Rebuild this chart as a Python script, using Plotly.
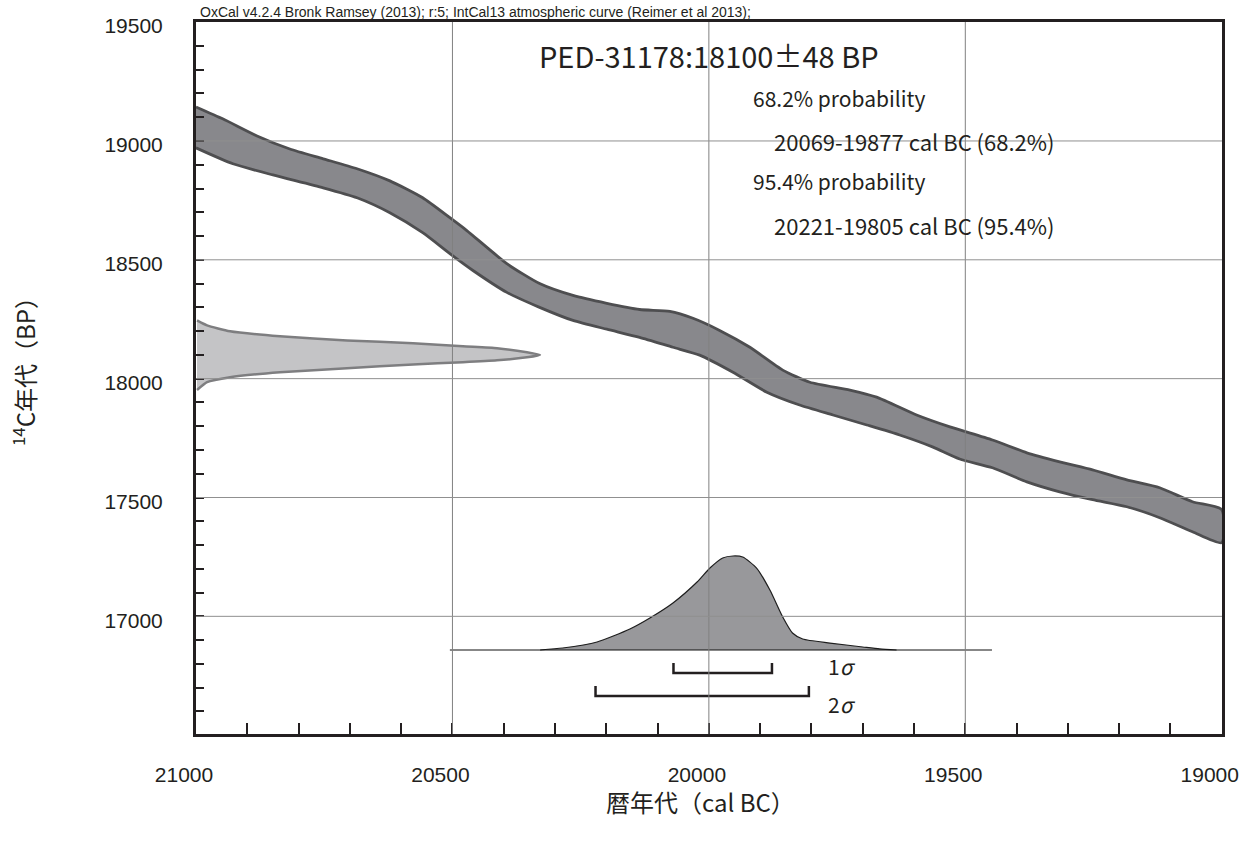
import plotly.graph_objects as go

# IntCal13 calibration band, upper and lower edges (cal BC, 14C BP)
curve_upper_year = [21000, 20947, 20881, 20817, 20752, 20686, 20622, 20558, 20505, 20472,
                    20394, 20330, 20265, 20199, 20135, 20076, 20031, 19979, 19920, 19856,
                    19803, 19725, 19673, 19595, 19530, 19447, 19380, 19316, 19252, 19185,
                    19121, 19057, 19000]
curve_upper_bp = [19143, 19092, 19021, 18966, 18925, 18883, 18832, 18761, 18677, 18623,
                  18484, 18400, 18350, 18317, 18291, 18283, 18254, 18203, 18132, 18036,
                  17985, 17952, 17922, 17847, 17797, 17742, 17688, 17650, 17616, 17574,
                  17541, 17482, 17449]
curve_lower_year = [21000, 20928, 20850, 20752, 20686, 20622, 20558, 20505, 20460, 20394,
                    20330, 20265, 20199, 20135, 20070, 20018, 19953, 19887, 19823, 19758,
                    19692, 19628, 19564, 19511, 19447, 19380, 19316, 19252, 19185, 19121,
                    19057, 19000]
curve_lower_bp = [18971, 18904, 18857, 18803, 18761, 18698, 18614, 18526, 18455, 18363,
                  18300, 18245, 18208, 18174, 18132, 18099, 18027, 17943, 17889, 17847,
                  17805, 17763, 17713, 17662, 17625, 17566, 17524, 17491, 17461, 17415,
                  17356, 17310]

# measured date 18100 +/- 48 BP, relative probability
date_bp = [18245, 18224, 18199, 18178, 18161, 18149, 18136, 18128, 18111, 18100,
           18090, 18077, 18069, 18060, 18044, 18027, 18006, 17985, 17952]
date_prob = [0.003, 0.032, 0.099, 0.244, 0.439, 0.631, 0.776, 0.875, 0.962, 1.0,
             0.962, 0.875, 0.776, 0.631, 0.439, 0.244, 0.099, 0.032, 0.003]

# calibrated distribution (cal BC), relative probability
cal_year = [20329, 20285, 20218, 20154, 20115, 20070, 20023, 19998, 19973, 19953,
            19934, 19907, 19881, 19856, 19837, 19817, 19764, 19700, 19667, 19634]
cal_prob = [0.0, 0.021, 0.085, 0.223, 0.340, 0.500, 0.723, 0.872, 0.979, 1.0,
            0.989, 0.872, 0.638, 0.351, 0.181, 0.117, 0.074, 0.032, 0.011, 0.0]
cal_baseline = [20505, 19448]

range_1sigma = [20069, 19877]
range_2sigma = [20221, 19805]

x_ticks = [21000, 20500, 20000, 19500, 19000]
y_ticks = [19500, 19000, 18500, 18000, 17500, 17000]

JP = "Noto Sans CJK JP"
TXT = "#231f20"

# plot area in page pixels
L, R, T, B = 196, 1222, 22, 734
W, H = 1255, 848


def px(x):
    return (x - L) / (R - L)


def py(y):
    return (B - y) / (B - T)


fig = go.Figure()

# calibration band
fig.add_trace(go.Scatter(
    x=curve_upper_year + curve_lower_year[::-1],
    y=curve_upper_bp + curve_lower_bp[::-1],
    fill="toself", fillcolor="#88888c", mode="lines",
    line=dict(color="#4e4e50", width=2.8, shape="spline", smoothing=0.6),
    showlegend=False, hoverinfo="skip",
))

# measured date on the y axis
fig.add_trace(go.Scatter(
    x=date_prob, y=date_bp, xaxis="x2", yaxis="y",
    fill="toself", fillcolor="#c4c4c6", mode="lines",
    line=dict(color="#7e7e80", width=2.5, shape="spline", smoothing=0.5),
    showlegend=False, hoverinfo="skip",
))

# calibrated distribution
fig.add_trace(go.Scatter(
    x=cal_year, y=cal_prob, xaxis="x", yaxis="y2",
    fill="toself", fillcolor="#98989b", mode="lines",
    line=dict(color="#1e1e1e", width=1.2, shape="spline", smoothing=0.6),
    showlegend=False, hoverinfo="skip",
))
fig.add_trace(go.Scatter(
    x=cal_baseline, y=[0, 0], xaxis="x", yaxis="y2", mode="lines",
    line=dict(color="#111", width=1.2), showlegend=False, hoverinfo="skip",
))

# sigma brackets
for rng, lvl in [(range_1sigma, -0.245), (range_2sigma, -0.489)]:
    top = lvl + 0.107
    fig.add_trace(go.Scatter(
        x=[rng[0], rng[0], rng[1], rng[1]], y=[top, lvl, lvl, top],
        xaxis="x", yaxis="y2", mode="lines",
        line=dict(color="#231f20", width=2.5), showlegend=False, hoverinfo="skip",
    ))

# grid lines drawn over the data, like the original
for v in x_ticks[1:-1]:
    fig.add_shape(type="line", xref="x", yref="paper", x0=v, x1=v, y0=0, y1=1,
                  line=dict(color="#808080", width=1), layer="above")
for v in y_ticks[1:]:
    fig.add_shape(type="line", xref="paper", yref="y", x0=0, x1=1, y0=v, y1=v,
                  line=dict(color="#909090", width=1), layer="above")

axis_common = dict(
    showline=True, mirror=True, linewidth=3, linecolor=TXT, showgrid=False,
    zeroline=False, ticks="inside", tickcolor=TXT, tickformat="d", automargin=False,
    ticklabeloverflow="allow",
    tickfont=dict(family="Liberation Sans, Arial", size=21, color=TXT),
)
fig.update_layout(
    width=W, height=H,
    margin=dict(l=L, r=W - R, t=T, b=H - B),
    plot_bgcolor="white", paper_bgcolor="white",
    xaxis=dict(range=[21000, 18999.5], tickvals=x_ticks, ticklen=11, tickwidth=2,
               ticklabelstandoff=20, ticklabelshift=12,
               minor=dict(dtick=100, ticks="inside", ticklen=11, tickwidth=1.5, tickcolor=TXT),
               **axis_common),
    yaxis=dict(range=[16505, 19500.5], tickvals=y_ticks, ticklen=8, tickwidth=2,
               ticklabelstandoff=26, ticklabelshift=4,
               minor=dict(dtick=100, ticks="inside", ticklen=8, tickwidth=1.5, tickcolor=TXT),
               **axis_common),
    xaxis2=dict(overlaying="x", range=[0, (R - L) / 344], visible=False),
    yaxis2=dict(overlaying="y", range=[-(B - 650) / 94, (650 - T) / 94], visible=False),
)

ann = [
    dict(x=px(198), y=py(12), text="OxCal v4.2.4 Bronk Ramsey (2013); r:5; IntCal13 atmospheric curve (Reimer et al 2013);",
         xanchor="left", yanchor="middle", font=dict(family="Liberation Sans, Arial", size=14, color=TXT)),
    dict(x=px(709), y=py(55), text="PED-31178:18100±48 BP", xanchor="center", yanchor="middle",
         font=dict(family=JP, size=29, color=TXT)),
    dict(x=px(751), y=py(98), text="68.2% probability", xanchor="left", yanchor="middle",
         font=dict(family=JP, size=21, color=TXT)),
    dict(x=px(772), y=py(141), text="20069-19877 cal BC (68.2%)", xanchor="left", yanchor="middle",
         font=dict(family=JP, size=22, color=TXT)),
    dict(x=px(751), y=py(181), text="95.4% probability", xanchor="left", yanchor="middle",
         font=dict(family=JP, size=21, color=TXT)),
    dict(x=px(772), y=py(225), text="20221-19805 cal BC (95.4%)", xanchor="left", yanchor="middle",
         font=dict(family=JP, size=22, color=TXT)),
    dict(x=px(826), y=py(666), text="1<i>σ</i>", xanchor="left", yanchor="middle",
         font=dict(family=JP, size=21, color=TXT)),
    dict(x=px(826), y=py(704), text="2<i>σ</i>", xanchor="left", yanchor="middle",
         font=dict(family=JP, size=21, color=TXT)),
    dict(x=px(24), y=py(366), text="<sup>14</sup>C年代（BP）", textangle=-90, xanchor="center",
         yanchor="middle", font=dict(family=JP, size=24, color=TXT)),
    dict(x=px(700), y=py(802), text="暦年代（cal BC）", xanchor="center", yanchor="middle",
         font=dict(family=JP, size=24, color=TXT)),
]
for a in ann:
    fig.add_annotation(xref="paper", yref="paper", showarrow=False, **a)

fig.write_html(
    "out.html",
    config={"displayModeBar": False},
    post_script="document.body.style.margin='0';document.body.style.overflow='hidden';",
)
